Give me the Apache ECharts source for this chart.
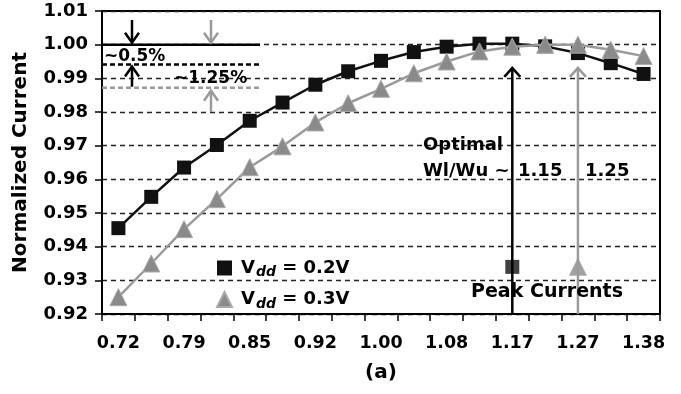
<!DOCTYPE html>
<html><head><meta charset="utf-8">
<script src="https://cdn.jsdelivr.net/npm/echarts@6/dist/echarts.min.js"></script>
<style>html,body{margin:0;padding:0;background:#fff}#c{width:681px;height:394px}</style>
</head><body><div id="c"></div>
<script>
// ---- data ----
const categories = ["0.72","0.75","0.79","0.82","0.85","0.89","0.92","0.96","1.00","1.04","1.08","1.12","1.17","1.22","1.27","1.32","1.38"];
const seriesNames = ["Vdd = 0.2V", "Vdd = 0.3V"];
const vdd02 = [0.9455,0.9548,0.9635,0.9702,0.9774,0.9828,0.9881,0.9921,0.9952,0.9978,0.9994,1.0003,1.0003,0.9995,0.9975,0.9945,0.9913];
const vdd03 = [0.9250,0.9350,0.9452,0.9541,0.9636,0.9698,0.9769,0.9826,0.9869,0.9915,0.9950,0.9980,0.9994,1.0000,1.0000,0.9985,0.9966];
const yMin = 0.92, yMax = 1.01, yStep = 0.01;
const peakIdx02 = 12, peakIdx03 = 14;      // optimal Wl/Wu categories (1.17 / 1.27)
const peakMarkerLevel = 0.934;
const arrowTipLevel = 0.9931;
const refLevels = {top: 1.00, drop02: 0.9941, drop03: 0.9872, lowArrow: 0.98};
const texts = {yName: "Normalized Current", caption: "(a)", optimal: "Optimal", ratio: "Wl/Wu ~", r02: "1.15", r03: "1.25", peak: "Peak Currents", pct02: "~0.5%", pct03: "~1.25%"};

const FF = '"DejaVu Sans", "Liberation Sans", Arial, sans-serif';
const BLACK = '#111111', GRAY = '#9a9a9a', TRI = '#8a8a8a';

const chart = echarts.init(document.getElementById('c'), null, {renderer: 'canvas'});
const option = {
  animation: false,
  backgroundColor: '#fff',
  grid: {left: 102, right: 21, top: 11, bottom: 80, show: true, borderColor: '#000', borderWidth: 2, backgroundColor: 'transparent'},
  xAxis: {
    type: 'category', data: categories, boundaryGap: true,
    axisLine: {lineStyle: {color: '#000', width: 2}},
    axisTick: {show: true, interval: 0, length: 7, lineStyle: {color: '#000', width: 1.5}},
    axisLabel: {interval: 1, margin: 20, color: '#000', fontFamily: FF, fontWeight: 'bold', fontSize: 17.5},
    splitLine: {show: false}
  },
  yAxis: {
    type: 'value', min: yMin, max: yMax, interval: yStep,
    name: texts.yName, nameLocation: 'middle', nameGap: 71, nameRotate: 90,
    nameTextStyle: {color: '#000', fontFamily: FF, fontWeight: 'bold', fontSize: 20},
    axisLine: {show: true, lineStyle: {color: '#000', width: 2}},
    axisTick: {show: true, length: 7, lineStyle: {color: '#000', width: 1.5}},
    axisLabel: {margin: 14, color: '#000', fontFamily: FF, fontWeight: 'bold', fontSize: 18, formatter: v => v.toFixed(2)},
    splitLine: {show: true, lineStyle: {color: '#222', width: 1.3, type: [5, 4]}}
  },
  legend: {
    data: [{name: seriesNames[0], icon: 'rect'}, {name: seriesNames[1], icon: 'triangle'}],
    orient: 'vertical', left: 211, top: 254, itemWidth: 15, itemHeight: 15, itemGap: 11,
    selectedMode: false,
    formatter: n => n === seriesNames[0] ? '{v|V}{s|dd}{v| = 0.2V}' : '{v|V}{s|dd}{v| = 0.3V}',
    textStyle: {padding: [0, 0, 0, 4], rich: {
      v: {fontSize: 18, fontWeight: 'bold', fontFamily: FF, color: '#000'},
      s: {fontSize: 14, fontWeight: 'bold', fontStyle: 'italic', fontFamily: FF, color: '#000', padding: [9, 0, 0, 1]}
    }}
  },
  series: [
    {name: seriesNames[0], type: 'line', data: vdd02, symbol: 'rect', symbolSize: 14,
     lineStyle: {color: BLACK, width: 2.5}, itemStyle: {color: BLACK}, z: 3},
    {name: seriesNames[1], type: 'line', data: vdd03, symbol: 'triangle', symbolSize: 17,
     lineStyle: {color: GRAY, width: 2.5}, itemStyle: {color: TRI, borderColor: '#aaaaaa', borderWidth: 1}, z: 4},
    {name: 'peak02', type: 'scatter', data: [[peakIdx02, peakMarkerLevel]], symbol: 'rect', symbolSize: 14,
     itemStyle: {color: BLACK}, z: 6},
    {name: 'peak03', type: 'scatter', data: [[peakIdx03, peakMarkerLevel]], symbol: 'triangle', symbolSize: 17,
     itemStyle: {color: TRI, borderColor: '#aaaaaa', borderWidth: 1}, z: 6}
  ]
};
chart.setOption(option);

const P = (c, v) => chart.convertToPixel({gridIndex: 0}, [c, v]);
const Y = v => P(0, v)[1];
const GL = 102, GR = 660;
const g = [];
function line(x1, y1, x2, y2, color, w, dash) {
  g.push({type: 'line', shape: {x1, y1, x2, y2}, style: {stroke: color, lineWidth: w, lineDash: dash || null}, z: 10});
}
function arrow(x, yTail, yTip, color, w, dx, dy) {
  const dir = yTip < yTail ? 1 : -1;
  line(x, yTail, x, yTip, color, w);
  g.push({type: 'polyline', shape: {points: [[x - dx, yTip + dy * dir], [x, yTip], [x + dx, yTip + dy * dir]]},
          style: {stroke: color, lineWidth: w, fill: null}, z: 10});
}
function text(t, x, y, size, align) {
  g.push({type: 'text', x, y, z: 12, style: {text: t, fill: '#000', font: 'bold ' + size + 'px ' + FF, align: align || 'left', verticalAlign: 'middle'}});
}
// top-left reference lines
line(GL, Y(refLevels.top), 260, Y(refLevels.top), '#000', 2.5);
line(GL, Y(refLevels.drop02), 260, Y(refLevels.drop02), '#000', 2.5, [5, 3]);
line(GL, Y(refLevels.drop03), 260, Y(refLevels.drop03), GRAY, 2.5, [5, 3]);
const yTop = 20;
arrow(132, yTop, Y(refLevels.top) - 2, '#000', 2.5, 7, 10);
arrow(132, Y(refLevels.drop03) - 1, Y(refLevels.drop02) + 2, '#000', 2.5, 7, 10);
arrow(211, yTop, Y(refLevels.top) - 2, GRAY, 2.5, 7, 10);
arrow(211, Y(refLevels.lowArrow), Y(refLevels.drop03) + 3, GRAY, 2.5, 7, 10);
text(texts.pct02, 104, 57, 17);
text(texts.pct03, 174, 79, 17);
// peak arrows
const pb = P(peakIdx02, yMin), pt = P(peakIdx02, arrowTipLevel);
arrow(pb[0], pb[1], pt[1], '#000', 2.5, 8, 9);
const gb = P(peakIdx03, yMin), gt = P(peakIdx03, arrowTipLevel);
arrow(gb[0], gb[1], gt[1], GRAY, 2.5, 8, 9);
text(texts.optimal, 423, 145, 18);
text(texts.ratio, 423, 171, 18);
text(texts.r02, 518, 171, 18);
text(texts.r03, 585, 171, 18);
text(texts.peak, 547, 292, 19, 'center');
text(texts.caption, (GL + GR) / 2, 373, 20, 'center');
chart.setOption({graphic: g});
</script></body></html>
